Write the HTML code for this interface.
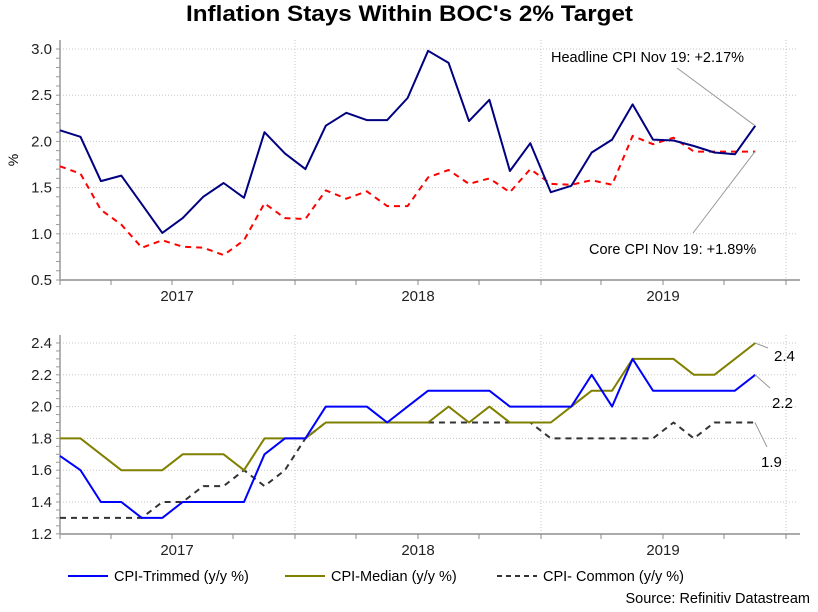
<!DOCTYPE html>
<html><head><meta charset="utf-8"><style>
body{margin:0;background:#fff;font-family:"Liberation Sans",Arial,sans-serif}
svg text{font-family:"Liberation Sans",Arial,sans-serif}
</style></head><body>
<svg id="c" width="818" height="607" viewBox="0 0 818 607" xmlns="http://www.w3.org/2000/svg">
<text x="186" y="21" font-size="22" font-weight="bold" textLength="447" lengthAdjust="spacingAndGlyphs">Inflation Stays Within BOC's 2% Target</text>
<g id="top"></g><g id="bot"></g>
</svg>
<script>
const headline=[2.12,2.05,1.57,1.63,1.32,1.01,1.17,1.40,1.55,1.39,2.10,1.87,1.70,2.17,2.31,2.23,2.23,2.47,2.98,2.85,2.22,2.45,1.68,1.98,1.45,1.52,1.88,2.02,2.40,2.02,2.01,1.95,1.88,1.86,2.17];
const core=[1.73,1.65,1.26,1.10,0.85,0.93,0.86,0.85,0.77,0.93,1.33,1.17,1.16,1.47,1.38,1.46,1.30,1.30,1.61,1.69,1.54,1.60,1.45,1.70,1.54,1.53,1.58,1.53,2.06,1.97,2.04,1.89,1.89,1.89,1.89];
const trimmed=[1.69,1.6,1.4,1.4,1.3,1.3,1.4,1.4,1.4,1.4,1.7,1.8,1.8,2.0,2.0,2.0,1.9,2.0,2.1,2.1,2.1,2.1,2.0,2.0,2.0,2.0,2.2,2.0,2.3,2.1,2.1,2.1,2.1,2.1,2.2];
const median=[1.8,1.8,1.7,1.6,1.6,1.6,1.7,1.7,1.7,1.6,1.8,1.8,1.8,1.9,1.9,1.9,1.9,1.9,1.9,2.0,1.9,2.0,1.9,1.9,1.9,2.0,2.1,2.1,2.3,2.3,2.3,2.2,2.2,2.3,2.4];
const common=[1.3,1.3,1.3,1.3,1.3,1.4,1.4,1.5,1.5,1.6,1.5,1.6,1.8,1.9,1.9,1.9,1.9,1.9,1.9,1.9,1.9,1.9,1.9,1.9,1.8,1.8,1.8,1.8,1.8,1.8,1.9,1.8,1.9,1.9,1.9];
const topTicks=[0.5,1.0,1.5,2.0,2.5,3.0];
const botTicks=[1.2,1.4,1.6,1.8,2.0,2.2,2.4];
const years=["2017","2018","2019"];
const NS="http://www.w3.org/2000/svg";
const X=i=>60+i*20.45;
const yT=v=>49+(3.0-v)*92.4;
const yB=v=>343+(2.4-v)*159;
function mk(p,t,a){const e=document.createElementNS(NS,t);for(const k in a)e.setAttribute(k,a[k]);p.appendChild(e);return e;}
const qx=[60,111,172,233,295,356,418,479,541,601,663,724,786];
const yearX=[177,418,663];
function panel(g,top,bottom,ticks,yf,fmt,minor){
  ticks.forEach(v=>{const l=mk(g,'line',{x1:60,x2:798,y1:yf(v),y2:yf(v),stroke:'#c8c8c8','stroke-dasharray':'1,2'});
  
  
  const t=mk(g,'text',{x:52,y:yf(v)+5,'text-anchor':'end','font-size':15,fill:'#222'});t.textContent=fmt(v);
  
  });
  [295,541,786].forEach(x=>{const l=mk(g,'line',{x1:x,x2:x,y1:top,y2:bottom,stroke:'#c8c8c8','stroke-dasharray':'1,2'});
  
  });
  for(let v=ticks[0];v<=ticks[ticks.length-1]+1e-9;v+=minor){mk(g,'line',{x1:56,x2:60,y1:yf(v),y2:yf(v),stroke:'#999'});}
  mk(g,'line',{x1:60,x2:60,y1:top,y2:bottom,stroke:'#999','stroke-width':1.5});
  const ax=mk(g,'line',{x1:60,x2:800,y1:bottom,y2:bottom,stroke:'#aaa','stroke-width':2});
  
  
  qx.forEach(x=>mk(g,'line',{x1:x,x2:x,y1:bottom,y2:bottom+5,stroke:'#888'}));
  years.forEach((y,i)=>{const t=mk(g,'text',{x:yearX[i],y:bottom+21,'text-anchor':'middle','font-size':15,fill:'#222'});t.textContent=y;
  
  });
}
function series(g,data,yf,color,w,dash,name){
  const d=data.map((v,i)=>(i?'L':'M')+X(i).toFixed(1)+','+yf(v).toFixed(1)).join('');
  const p=mk(g,'path',{d:d,fill:'none',stroke:color,'stroke-width':w,'stroke-dasharray':dash||'none','stroke-linejoin':'round'});
  
  
}
const gt=document.getElementById('top'),gb=document.getElementById('bot');
panel(gt,40,280,topTicks,yT,v=>v.toFixed(1),0.1);
const pc=mk(gt,'text',{x:18,y:160,'font-size':14,transform:'rotate(-90 18 160)','text-anchor':'middle'});pc.textContent='%';


series(gt,core,yT,'#ff0000',2,'6,5','core-cpi-line');
series(gt,headline,yT,'#000080',2,null,'headline-cpi-line');
mk(gt,'line',{x1:677,y1:68,x2:755,y2:yT(headline[34]),stroke:'#999'});
mk(gt,'line',{x1:693,y1:233,x2:755,y2:yT(core[34]),stroke:'#999'});
let t=mk(gt,'text',{x:551,y:62,'font-size':14.5});t.textContent='Headline CPI Nov 19: +2.17%';


t=mk(gt,'text',{x:589,y:254,'font-size':14.5});t.textContent='Core CPI Nov 19: +1.89%';



panel(gb,335,534,botTicks,yB,v=>v.toFixed(1),0.05);
series(gb,common,yB,'#333',2,'6,5','cpi-common-line');
series(gb,median,yB,'#808000',2,null,'cpi-median-line');
series(gb,trimmed,yB,'#0000ff',2,null,'cpi-trimmed-line');
mk(gb,'line',{x1:755,y1:yB(median[34]),x2:768,y2:348,stroke:'#999'});
mk(gb,'line',{x1:755,y1:yB(trimmed[34]),x2:770,y2:388,stroke:'#999'});
mk(gb,'line',{x1:755,y1:yB(common[34]),x2:767,y2:447,stroke:'#999'});
[["2.4",774,361],["2.2",772,408],["1.9",761,467]].forEach(a=>{const e=mk(gb,'text',{x:a[1],y:a[2],'font-size':15});e.textContent=a[0];

});

const lg=[["CPI-Trimmed (y/y %)",'#0000ff',null,68],["CPI-Median (y/y %)",'#808000',null,285],["CPI- Common (y/y %)",'#333','5,4',497]];
lg.forEach(a=>{const g=mk(document.getElementById('c'),'g',{});


mk(g,'line',{x1:a[3],x2:a[3]+40,y1:576,y2:576,stroke:a[1],'stroke-width':2,'stroke-dasharray':a[2]||'none'});
const e=mk(g,'text',{x:a[3]+46,y:581,'font-size':14.5});e.textContent=a[0];});
t=mk(document.getElementById('c'),'text',{x:810,y:603,'text-anchor':'end','font-size':14.5});t.textContent='Source: Refinitiv Datastream';


</script>
</body></html>
